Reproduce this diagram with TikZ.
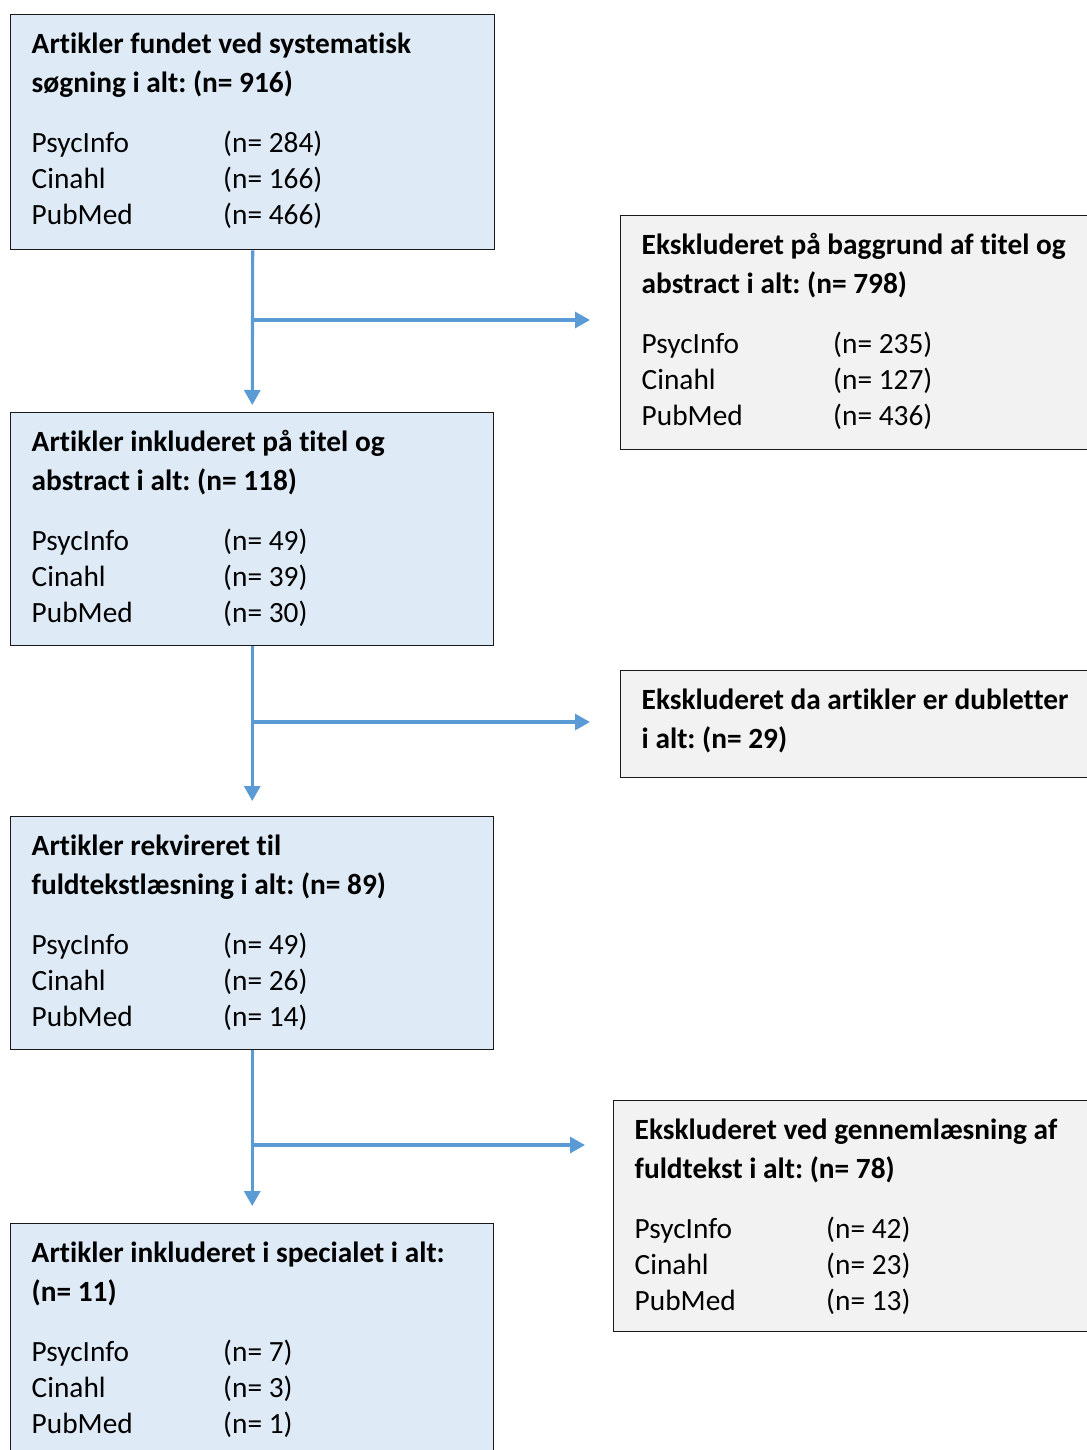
\documentclass[tikz,border=0pt]{standalone}
\usepackage{fontspec}
\setmainfont{Carlito}[Ligatures=NoCommon]
\usepackage{tikz}
\usetikzlibrary{arrows.meta,calc,positioning}
\definecolor{inclblue}{HTML}{DEEBF7}
\definecolor{exclgray}{HTML}{F2F2F2}
\definecolor{flowblue}{HTML}{5B9BD5}
\frenchspacing
\newdimen\px \px=0.75pt
\newcommand{\boxbody}[2]{\parbox[t]{#1\px}{\raggedright\fontsize{22}{27}\selectfont #2}}
\newcommand{\titlelines}[2]{\textbf{#1}\\[2.25pt]\textbf{#2}}
\newcommand{\dbrow}[2]{\makebox[191.5\px][l]{#1}#2}
\newcommand{\dbrows}[3]{\dbrow{PsycInfo}{(n= #1)}\\\dbrow{Cinahl}{(n= #2)}\\\dbrow{PubMed}{(n= #3)}}

\begin{document}
\begin{tikzpicture}[x=0.75pt,y=-0.75pt,>={Triangle[length=11.25pt,width=12pt]},
  flowbox/.style={draw=black!90,line width=1.1pt,anchor=north west,inner xsep=15.75pt,
    inner ysep=0pt,text height=29pt,text depth=#1*0.75pt-29pt},
  incl/.style={flowbox=#1,fill=inclblue},
  excl/.style={flowbox=#1,fill=exclgray},
  flow/.style={->,flowblue,line width=2.3pt}]
  \useasboundingbox (0,0) rectangle (1087,1450);
  % included articles, left column
  \node[incl=235] (b1) at (10,14) {\boxbody{442}{\titlelines{Artikler fundet ved systematisk}{søgning i alt: (n= 916)}\\[18pt]\dbrows{284}{166}{466}}};
  \node[incl=233] (b2) at (10,412) {\boxbody{441}{\titlelines{Artikler inkluderet på titel og}{abstract i alt: (n= 118)}\\[18pt]\dbrows{49}{39}{30}}};
  \node[incl=233] (b3) at (10,816) {\boxbody{441}{\titlelines{Artikler rekvireret til}{fuldtekstlæsning i alt: (n= 89)}\\[18pt]\dbrows{49}{26}{14}}};
  \node[incl=245] (b4) at (10,1223) {\boxbody{441}{\titlelines{Artikler inkluderet i specialet i alt:}{(n= 11)}\\[18pt]\dbrows{7}{3}{1}}};
  % excluded articles, right column
  \node[excl=234] (r1) at (620,215) {\boxbody{446}{\titlelines{Ekskluderet på baggrund af titel og}{abstract i alt: (n= 798)}\\[18pt]\dbrows{235}{127}{436}}};
  \node[excl=107] (r2) at (620,670) {\boxbody{446}{\titlelines{Ekskluderet da artikler er dubletter}{i alt: (n= 29)}}};
  \node[excl=231] (r3) at (613,1100) {\boxbody{453}{\titlelines{Ekskluderet ved gennemlæsning af}{fuldtekst i alt: (n= 78)}\\[18pt]\dbrows{42}{23}{13}}};
  % arrows
  \coordinate (j1) at (b1.south |- 0,320);
  \coordinate (j2) at (b2.south |- 0,722);
  \coordinate (j3) at (b3.south |- 0,1145);
  \draw[flow,shorten >=5.25pt] (b1.south) -- (b2.north);
  \draw[flow,shorten >=11.25pt] (b2.south) -- (b3.north);
  \draw[flow,shorten >=12.75pt] (b3.south) -- (b4.north);
  \draw[flow,shorten >=22.5pt] (j1) -- (j1 -| r1.west);
  \draw[flow,shorten >=22.5pt] (j2) -- (j2 -| r2.west);
  \draw[flow,shorten >=21pt] (j3) -- (j3 -| r3.west);
\end{tikzpicture}
\end{document}
